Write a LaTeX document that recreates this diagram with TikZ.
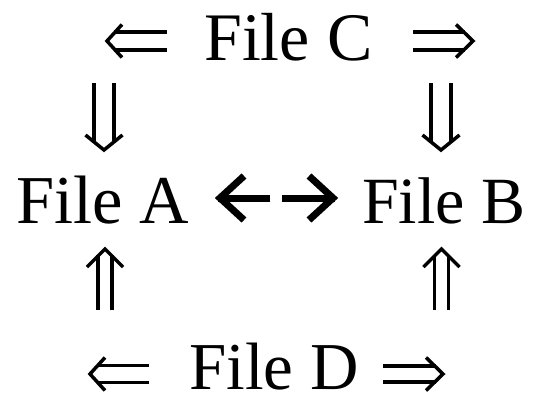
\documentclass[tikz,border=0pt]{standalone}
\usepackage{fontspec}
\setmainfont{Liberation Serif}
% double arrow: #1 tip, #2 angle, #3 length, #4 half gap, #5 head depth, #6 head half width
\newcommand\dblarrow[6]{%
  \begin{scope}[shift={(#1)}, rotate=#2]
    \draw[dbl] (-#3,-#4) -- ({-#5*#4/#6+1},-#4) (-#3,#4) -- ({-#5*#4/#6+1},#4);
    \draw[dbl] (-#5,-#6) -- (0,0) -- (-#5,#6);
  \end{scope}}
\begin{document}
\begin{tikzpicture}[x=1pt,y=-1pt,
  txt/.style={font=\fontsize{#1}{#1}\selectfont, inner sep=0pt, text depth=0pt, anchor=base west},
  dbl/.style={line width=3.5pt, line cap=butt, line join=miter},
  sgl/.style={line width=7pt, line cap=butt, line join=miter}]
\useasboundingbox (0,0) rectangle (533,397);

% file labels
\node[txt=68] (C) at (204,60) {File C};
\node[txt=68.5] (A) at (16,223) {File A};
\node[txt=66] (B) at (362,223) {File B};
\node[txt=67] (D) at (189,389) {File D};

% arrow tips
\coordinate (cl) at (107,41);
\coordinate (cr) at (473,41);
\coordinate (ald) at (104,150);
\coordinate (bld) at (441,150);
\coordinate (alu) at (105,249);
\coordinate (blu) at (441.5,249);
\coordinate (dl) at (90,374);
\coordinate (dr) at (443,374);

\dblarrow{cl}{180}{60}{9}{15}{16.5}
\dblarrow{cr}{0}{60}{9}{17}{16.5}
\dblarrow{ald}{-90}{67}{10}{15}{18.5}
\dblarrow{bld}{-90}{67}{10}{15}{18.5}
\dblarrow{alu}{90}{61}{7}{18}{18}
\dblarrow{blu}{90}{61}{7}{18}{18}
\dblarrow{dl}{180}{59}{8.5}{15}{16.5}
\dblarrow{dr}{0}{60}{8}{17}{16.5}

% link between File A and File B
\coordinate (ml) at (220,198);
\coordinate (mr) at (333,198);
\draw[sgl] (270,198) -- ([xshift=-2pt]ml);
\draw[sgl] (244,176) -- (ml) -- (244,220);
\draw[sgl] (282,198) -- ([xshift=2pt]mr);
\draw[sgl] (309,176) -- (mr) -- (309,220);
\end{tikzpicture}
\end{document}
